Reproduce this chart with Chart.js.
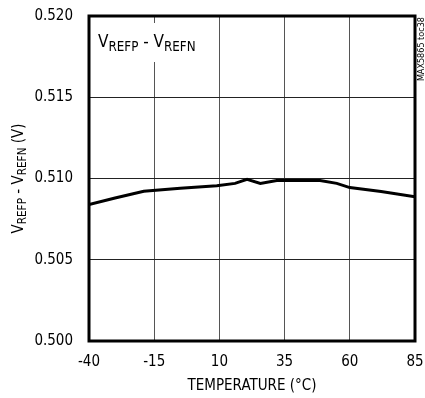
<!DOCTYPE html>
<html>
<head>
<meta charset="utf-8">
<script src="https://cdn.jsdelivr.net/npm/chart.js@4"></script>
<style>
  html, body { margin: 0; padding: 0; background: #fff; }
  #wrap { width: 425px; height: 398px; }
</style>
</head>
<body>
<div id="wrap"><canvas id="myChart" width="425" height="398"></canvas></div>
<script>
// values
const temps = [-40, -30, -19, -5, 9, 16, 20.6, 25.7, 32, 40, 48.6, 55, 60, 72, 85]
const volts = [0.5084, 0.5088, 0.50921, 0.5094, 0.50956, 0.5097, 0.50995, 0.5097, 0.50988, 0.50988, 0.50988, 0.5097, 0.50944, 0.5092, 0.50888]
const xTicks = [-40, -15, 10, 35, 60, 85]
const yTicks = [0.500, 0.505, 0.510, 0.515, 0.520]

const FONT = '"DejaVu Sans Condensed", "Liberation Sans", Arial, sans-serif'

// text with subscripts: parts = [[text, isSub], ...]
function drawSubText(c, parts, x, y, size) {
  let cx = x
  parts.forEach(p => {
    const s = p[1] ? size * 0.78 : size
    c.font = s + 'px ' + FONT
    c.fillText(p[0], cx, p[1] ? y + size * 0.22 : y)
    cx += c.measureText(p[0]).width
  })
  return cx - x
}

function subWidth(c, parts, size) {
  let w = 0
  parts.forEach(p => { c.font = (p[1] ? size * 0.78 : size) + 'px ' + FONT; w += c.measureText(p[0]).width })
  return w
}

const extras = {
  id: 'extras',
  afterDraw(chart) {
    const c = chart.ctx
    const a = chart.chartArea
    c.save()
    // frame
    c.strokeStyle = '#000'
    c.lineWidth = 3
    c.strokeRect(a.left, a.top, a.right - a.left, a.bottom - a.top)

    // label inside the plot, on a white patch over the grid
    c.textBaseline = 'alphabetic'
    c.textAlign = 'left'
    const lbl = [['V', false], ['REFP', true], [' - V', false], ['REFN', true]]
    const w = subWidth(c, lbl, 17)
    c.fillStyle = '#fff'
    c.fillRect(a.left + 6, a.top + 7, w + 8, 39)
    c.fillStyle = '#000'
    drawSubText(c, lbl, a.left + 9, a.top + 31, 17)

    // y axis title, rotated
    const yt = [['V', false], ['REFP', true], [' - V', false], ['REFN', true], [' (V)', false]]
    const tw = subWidth(c, yt, 15)
    c.translate(23, (a.top + a.bottom) / 2)
    c.rotate(-Math.PI / 2)
    drawSubText(c, yt, -tw / 2, 0, 15)
    c.restore()

    // side code, reads bottom to top
    c.save()
    c.fillStyle = '#000'
    c.font = '9px ' + FONT
    c.translate(424, 17)
    c.rotate(-Math.PI / 2)
    c.textAlign = 'right'
    c.fillText('MAX5865 toc38', 0, 0)
    c.restore()
  }
}

const ctx = document.getElementById('myChart')
// eslint-disable-next-line no-unused-vars
const myChart = new Chart(ctx, {
  type: 'line',
  data: {
    datasets: [{
      data: temps.map((t, i) => ({ x: t, y: volts[i] })),
      borderColor: '#000',
      borderWidth: 3,
      pointRadius: 0,
      tension: 0,
      fill: false
    }]
  },
  options: {
    responsive: false,
    animation: false,
    layout: { padding: { top: 16, right: 10, left: 0, bottom: 0 } },
    plugins: {
      legend: { display: false },
      tooltip: { enabled: false }
    },
    scales: {
      x: {
        type: 'linear',
        min: -40,
        max: 85,
        afterBuildTicks: s => { s.ticks = xTicks.map(v => ({ value: v })) },
        afterFit: s => { s.height = 57; s.paddingLeft = 0; s.paddingRight = 0 },
        grid: { color: '#555', lineWidth: 1, drawTicks: false },
        border: { display: false },
        ticks: {
          color: '#000',
          padding: 12,
          maxRotation: 0,
          font: { family: FONT, size: 15 },
          callback: v => String(v)
        },
        title: {
          display: true,
          text: 'TEMPERATURE (°C)',
          color: '#000',
          font: { family: FONT, size: 15 },
          padding: { top: 0, bottom: 3 }
        }
      },
      y: {
        type: 'linear',
        min: 0.500,
        max: 0.520,
        afterBuildTicks: s => { s.ticks = yTicks.map(v => ({ value: v })) },
        afterFit: s => { s.width = 89; s.paddingTop = 0; s.paddingBottom = 0 },
        grid: { color: '#222', lineWidth: 1, drawTicks: false },
        border: { display: false },
        ticks: {
          color: '#000',
          padding: 16,
          font: { family: FONT, size: 15 },
          callback: v => v.toFixed(3)
        }
      }
    }
  },
  plugins: [extras]
})
</script>
</body>
</html>
